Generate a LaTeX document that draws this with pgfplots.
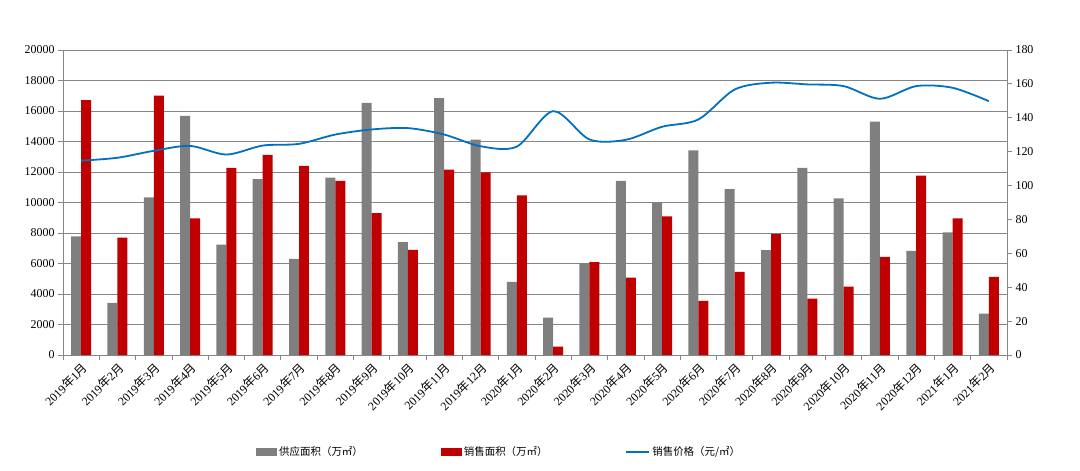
\documentclass[border=0pt]{standalone}
\usepackage{pgfplots}
\pgfplotsset{compat=1.18}
\usepackage{pgfplotstable}
\usepackage{fontspec}
\setmainfont{Liberation Serif}
\newfontfamily\cjk{Noto Sans CJK SC}
\definecolor{cgray}{RGB}{127,127,127}
\definecolor{cred}{RGB}{192,0,0}
\definecolor{cblue}{RGB}{0,112,192}
\definecolor{gridc}{RGB}{134,134,134}
\newcommand\ym[2]{#1{\cjk 年}#2{\cjk 月}}

\pgfplotstableread{
x supply sales
0 7780 16710
1 3420 7690
2 10340 17000
3 15680 8960
4 7230 12270
5 11540 13120
6 6310 12400
7 11630 11410
8 16540 9310
9 7400 6900
10 16850 12160
11 14130 11980
12 4800 10470
13 2450 550
14 6020 6090
15 11410 5080
16 10010 9090
17 13410 3550
18 10870 5450
19 6880 7950
20 12270 3700
21 10270 4490
22 15310 6440
23 6830 11760
24 8040 8960
25 2720 5130
}\bars

\pgfplotstableread{
x price
0 114.7
1 116.4
2 120.5
3 123.4
4 118.3
5 123.6
6 124.6
7 130.1
8 133.1
9 133.9
10 130.1
11 123.2
12 123.0
13 143.9
14 127.2
15 127.0
16 134.7
17 139.0
18 156.7
19 160.7
20 159.7
21 158.7
22 151.2
23 158.7
24 157.7
25 149.8
}\price

\begin{document}
\begin{tikzpicture}
\pgfplotsset{
  common/.style={
    scale only axis, width=944bp, height=305bp,
    xmin=-0.5, xmax=25.5,
    tick align=outside,
    major tick length=5bp,
    minor tick length=5bp,
    tick style={gridc, line width=0.8bp},
    axis line style={gridc, line width=0.8bp},
    ticklabel style={font=\fontsize{12}{14}\selectfont, text=black},
    /pgf/number format/1000 sep={},
    /pgf/number format/assume math mode=true,
    scaled y ticks=false,
  }
}
\begin{axis}[common,
  ymin=0, ymax=20000,
  ytick={0,2000,...,20000},
  ymajorgrids,
  grid style={gridc, line width=0.8bp},
  axis y line*=left, axis x line*=bottom,
  xtick={0,...,25},
  xticklabels={\ym{2019}{1},\ym{2019}{2},\ym{2019}{3},\ym{2019}{4},\ym{2019}{5},\ym{2019}{6},\ym{2019}{7},\ym{2019}{8},\ym{2019}{9},\ym{2019}{10},\ym{2019}{11},\ym{2019}{12},\ym{2020}{1},\ym{2020}{2},\ym{2020}{3},\ym{2020}{4},\ym{2020}{5},\ym{2020}{6},\ym{2020}{7},\ym{2020}{8},\ym{2020}{9},\ym{2020}{10},\ym{2020}{11},\ym{2020}{12},\ym{2021}{1},\ym{2021}{2}},
  xticklabel style={rotate=45, anchor=north east, inner sep=1bp},
  major x tick style={draw=none},
  minor xtick={-0.5,0.5,...,25.5},
  minor x tick style={gridc, line width=0.8bp},
  legend columns=3,
  legend cell align=left,
  legend style={at={(0.2013,-0.318)}, anchor=west, draw=none, fill=none,
    font=\cjk\fontsize{10.5}{12}\selectfont,
    /tikz/every even column/.append style={column sep=76bp}},
]
\addplot[ybar, bar width=0.275, bar shift=-0.1375, fill=cgray, draw=none,
  legend image code/.code={\fill[cgray] (0bp,-4bp) rectangle (21bp,4bp);}]
  table[x=x,y=supply]{\bars};
\addlegendentry{供应面积（万㎡）}
\addplot[ybar, bar width=0.275, bar shift=0.1375, fill=cred, draw=none,
  legend image code/.code={\fill[cred] (0bp,-4bp) rectangle (21bp,4bp);}]
  table[x=x,y=sales]{\bars};
\addlegendentry{销售面积（万㎡）}
\addlegendimage{legend image code/.code={\draw[cblue, line width=1.8bp] (0bp,0bp) -- (23bp,0bp);}}
\addlegendentry{销售价格（元/㎡）}
\end{axis}
\begin{axis}[common,
  ymin=0, ymax=180,
  ytick={0,20,...,180},
  axis y line*=right, axis x line=none,
]
\addplot[cblue, line width=1.8bp, smooth, tension=0.5] table[x=x,y=price]{\price};
\end{axis}
\pgfresetboundingbox
\path[use as bounding box] (-63bp,-116bp) rectangle (1017bp,355bp);
\end{tikzpicture}
\end{document}
